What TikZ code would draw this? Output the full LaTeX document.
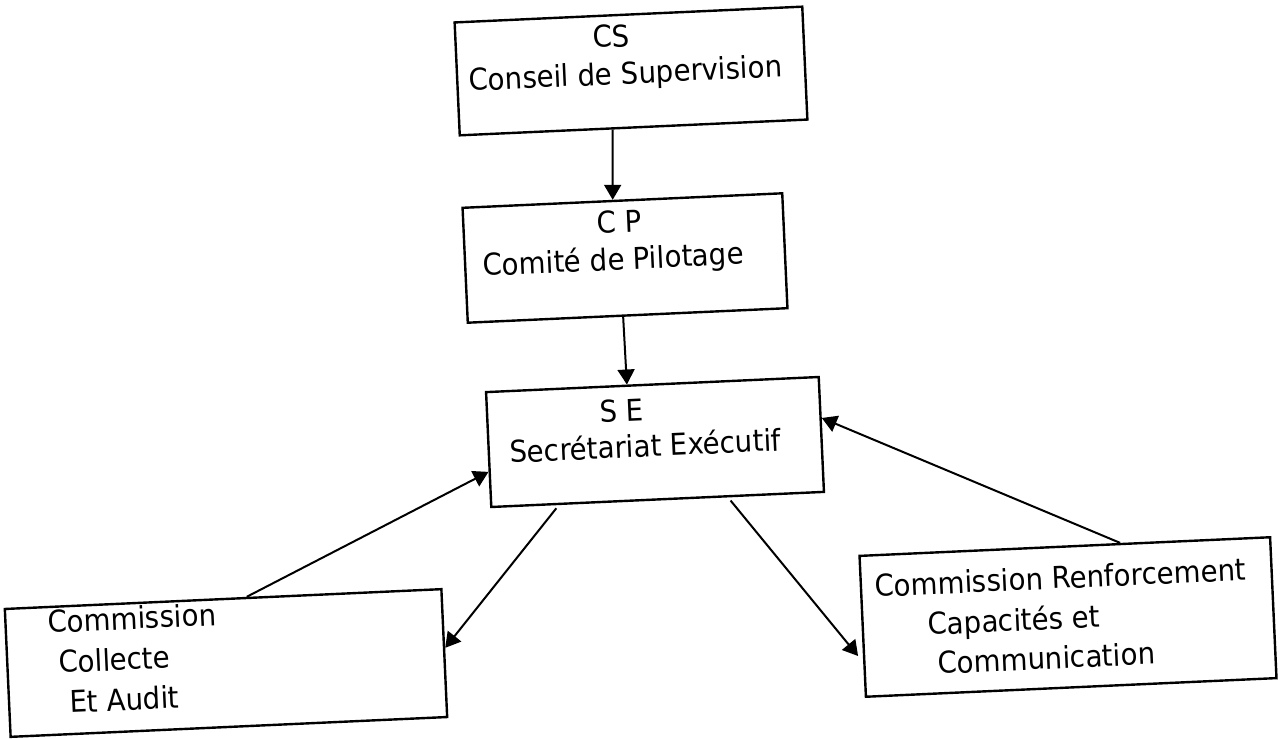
\documentclass[tikz,border=0pt]{standalone}
\usepackage{fontspec}
\setmainfont[FakeStretch=0.92]{DejaVu Sans}
\usetikzlibrary{arrows.meta,calc}
\begin{document}
\begin{tikzpicture}[x=0.5pt,y=-0.5pt,
  box/.style={draw,line width=1.2pt,rotate=2.6,inner sep=0pt,fill=none},
  lbl/.style={anchor=base west,rotate=2.6,inner sep=0pt,font=\fontsize{15}{17}\selectfont},
  arr/.style={line width=1pt,-{Triangle[length=7.5pt,width=8.5pt]}}]
\useasboundingbox (0,0) rectangle (1283,738);
% boxes
\node[box,minimum width=174pt,minimum height=56.5pt] (cs) at (631,71) {};
\node[box,minimum width=160pt,minimum height=57.5pt] (cp) at (625,258) {};
\node[box,minimum width=166.5pt,minimum height=57.5pt] (se) at (655,442) {};
\node[box,minimum width=218.5pt,minimum height=64pt] (col) at (226,663) {};
\node[box,minimum width=205.5pt,minimum height=70.5pt] (rf) at (1068,617) {};
% texts
\node[lbl] (cs1) at (593,48) {CS};
\node[lbl] (cs2) at (469,91) {Conseil de Supervision};
\node[lbl] (cp1) at (597,234) {C P};
\node[lbl] (cp2) at (483,276) {Comité de Pilotage};
\node[lbl] (se1) at (600,423) {S E};
\node[lbl] (se2) at (510,463) {Secrétariat Exécutif};
\node[lbl] (col1) at (48,633) {Commission};
\node[lbl] (col2) at (59,673) {Collecte};
\node[lbl] (col3) at (70,713) {Et Audit};
\node[lbl] (rf1) at (875,597) {Commission Renforcement};
\node[lbl] (rf2) at (928,635) {Capacités et};
\node[lbl] (rf3) at (938,674) {Communication};
% connectors
\draw[arr] ($(cs.south west)!0.44!(cs.south east)$) -- ($(cp.north west)!0.47!(cp.north east)$);
\draw[arr] ($(cp.south west)!0.486!(cp.south east)$) -- ($(se.north west)!0.424!(se.north east)$);
\draw[arr] ($(col.north west)!0.554!(col.north east)$) -- ($(se.north west)!0.69!(se.south west)$);
\draw[arr,shorten <=2pt] ($(se.south west)!0.205!(se.south east)$) -- ($(col.north east)!0.46!(col.south east)$);
\draw[arr,shorten <=2pt,shorten >=4pt] ($(se.south west)!0.71!(se.south east)$) -- ($(rf.north west)!0.75!(rf.south west)$);
\draw[arr] ($(rf.north west)!0.634!(rf.north east)$) -- ($(se.north east)!0.36!(se.south east)$);
\end{tikzpicture}
\end{document}
